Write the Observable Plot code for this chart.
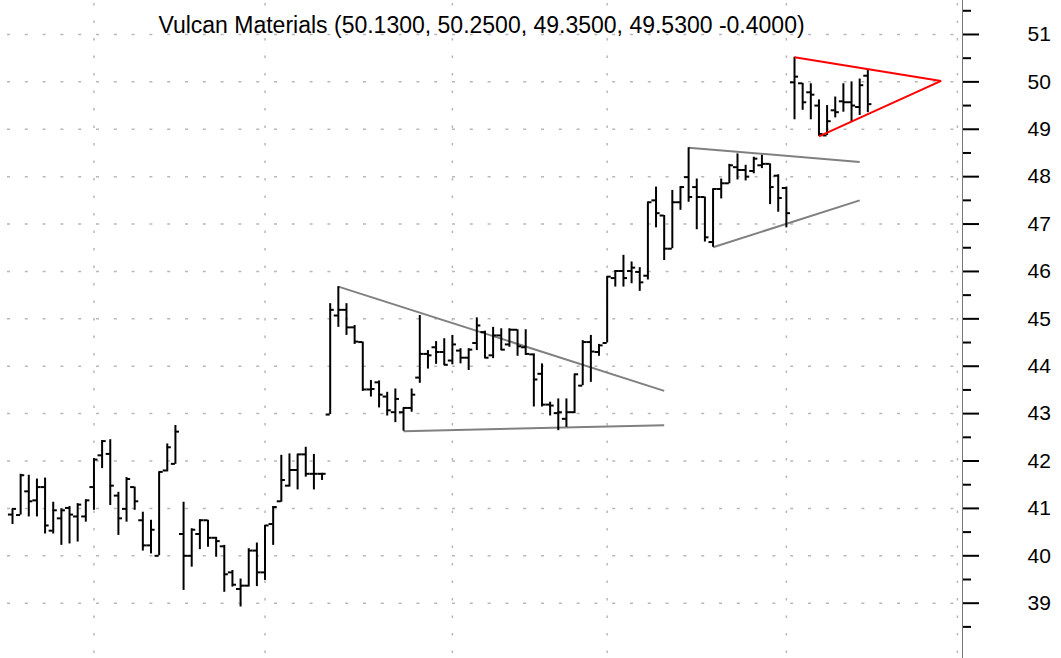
<!DOCTYPE html>
<html>
<head>
<meta charset="utf-8">
<script src="https://cdn.jsdelivr.net/npm/d3@7"></script>
<script src="https://cdn.jsdelivr.net/npm/@observablehq/plot@0.6"></script>
<style>
  html, body { margin: 0; padding: 0; background: #ffffff; }
</style>
</head>
<body>
<div id="chart"></div>
<script>
const title = "Vulcan Materials (50.1300, 50.2500, 49.3500, 49.5300 -0.4000)";

const opens = [40.87,40.86,41.36,41.17,41.45,40.53,40.79,41.01,40.83,40.83,41.45,42.12,42.15,41.27,40.99,41.45,40.75,40.22,40.00,41.80,41.94,40.46,40.00,40.46,40.75,40.38,40.20,39.65,39.30,39.37,40.11,39.65,40.67,41.15,41.48,41.81,42.14,41.73,41.73,42.98,45.07,45.19,44.82,44.51,43.51,43.66,43.36,43.03,43.03,43.12,43.76,44.26,44.40,44.30,44.12,44.33,44.18,44.49,44.72,44.23,44.65,44.46,44.77,44.40,44.25,43.84,43.19,43.01,42.89,43.03,43.59,44.51,44.30,44.49,45.86,46.01,46.01,45.99,45.91,47.50,47.18,46.48,47.46,47.99,47.78,47.57,46.62,47.74,47.86,48.20,48.14,48.12,48.24,48.27,48.02,47.76,49.99,49.97,49.78,49.50,48.87,49.40,49.59,49.57,49.47,50.13];
const highs = [40.99,41.72,41.70,41.62,41.64,41.13,40.99,41.04,41.10,41.18,42.05,42.43,42.45,41.34,41.65,41.45,40.92,40.75,41.77,42.36,42.75,41.13,40.57,40.76,40.75,40.39,40.22,39.69,39.51,40.15,40.27,40.64,41.04,42.12,42.15,42.14,42.29,42.14,41.74,45.32,45.68,45.32,44.86,44.51,43.70,43.69,43.45,43.52,43.12,43.52,45.07,44.33,44.52,44.58,44.65,44.37,44.37,45.02,44.74,44.82,44.79,44.79,44.77,44.77,44.26,44.05,43.24,43.31,43.31,43.83,44.54,44.65,44.46,45.89,46.02,46.34,46.20,46.08,47.46,47.78,47.18,47.71,47.79,48.61,47.95,47.57,47.74,47.95,48.26,48.48,48.24,48.41,48.45,48.27,48.04,47.78,50.52,49.97,49.96,49.62,49.50,49.68,49.96,50.00,50.06,50.25];
const lows = [40.66,40.86,40.82,40.82,40.46,40.46,40.22,40.25,40.29,40.71,40.96,41.84,41.06,40.43,40.71,40.96,40.10,40.04,40.00,41.77,41.93,39.27,39.76,40.13,40.18,39.97,39.23,39.34,38.92,39.34,39.35,39.48,40.22,41.13,41.45,41.39,41.66,41.39,41.59,42.98,44.82,44.65,44.46,43.47,43.35,43.12,42.95,42.81,42.63,43.03,43.64,43.94,44.04,44.02,44.03,44.05,43.91,44.33,44.16,44.16,44.33,44.40,44.21,44.23,43.14,43.14,42.95,42.64,42.71,43.00,43.59,43.66,44.21,44.49,45.67,45.67,45.74,45.58,45.82,46.92,46.23,46.48,47.29,47.46,46.88,46.62,46.51,47.53,47.85,47.93,47.91,48.06,48.17,47.41,47.25,46.92,49.20,49.40,49.20,48.85,48.87,49.24,49.36,49.16,49.29,49.35];
const closes = [40.99,41.70,41.15,41.45,40.64,40.96,40.96,40.87,41.08,41.17,42.03,42.42,41.48,40.79,41.62,41.15,40.22,40.55,41.77,42.29,42.62,40.00,40.55,40.75,40.38,40.31,39.61,39.39,39.37,40.11,39.65,40.64,41.03,41.60,41.81,42.14,41.73,41.73,41.73,45.19,45.19,44.82,44.52,43.51,43.52,43.40,43.07,43.31,43.12,43.40,44.26,44.23,44.30,44.03,44.46,44.18,44.35,44.86,44.18,44.65,44.35,44.77,44.42,44.26,43.72,43.19,43.17,43.03,43.03,43.83,44.51,44.31,44.44,45.89,46.01,45.86,46.08,45.77,47.46,47.23,46.48,47.46,47.78,47.57,47.57,46.72,47.74,47.86,48.24,48.14,48.00,48.38,48.27,47.78,47.55,47.23,50.11,49.57,49.73,48.90,49.17,49.36,49.57,49.50,49.93,49.53];

// trading-day index of each bar
const days = opens.map((_, k) => k + 1);
// first trading day of each month (vertical grid)
const monthStarts = [11, 32, 55, 74, 96, 117];
const majorTicks = [39, 40, 41, 42, 43, 44, 45, 46, 47, 48, 49, 50, 51];
const minorTicks = [38.5, 39.5, 40.5, 41.5, 42.5, 43.5, 44.5, 45.5, 46.5, 47.5, 48.5, 49.5, 50.5, 51.5];

// trend lines (day, price)
const grayLines = [
  {x1: 41, y1: 45.68, x2: 81, y2: 43.48},
  {x1: 49, y1: 42.63, x2: 81, y2: 42.755},
  {x1: 84, y1: 48.61, x2: 105, y2: 48.31},
  {x1: 87, y1: 46.51, x2: 105, y2: 47.50}
];
const redLines = [
  {x1: 97, y1: 50.52, x2: 115, y2: 50.02},
  {x1: 100, y1: 48.85, x2: 115, y2: 50.02}
];

const bars = days.map((d, k) => ({i: d, open: opens[k], high: highs[k], low: lows[k], close: closes[k]}));

const xDomain = [-0.4731, 117.622];
const yDomain = [37.833, 51.717];

const chart = Plot.plot({
  width: 1061,
  height: 658,
  marginLeft: 0,
  marginRight: 99,
  marginTop: 0,
  marginBottom: 0,
  x: {domain: xDomain, axis: null},
  y: {domain: yDomain},
  style: {fontFamily: "Arial, 'Liberation Sans', sans-serif", background: "#ffffff", color: "#000000", overflow: "visible"},
  marks: [
    Plot.ruleY(majorTicks, {stroke: "#b8b8b8", strokeWidth: 1.5, strokeDasharray: "3,14.8", strokeDashoffset: 10.8}),
    Plot.ruleX(monthStarts, {stroke: "#b8b8b8", strokeWidth: 1.5, strokeDasharray: "2.5,15", strokeDashoffset: 14.5}),
    Plot.ruleX([xDomain[1]], {stroke: "#777777", strokeWidth: 1}),
    Plot.axisY(minorTicks, {anchor: "right", tickSize: 8, strokeWidth: 2, stroke: "#000", tickFormat: () => ""}),
    Plot.axisY(majorTicks, {anchor: "right", tickSize: 16, tickPadding: 49, strokeWidth: 2, stroke: "#000", fontSize: 21, fill: "#000", tickFormat: d => String(d)}),
    Plot.text([title], {frameAnchor: "top", lineAnchor: "bottom", dy: 32, fontSize: 23, fill: "#000"}),
    Plot.link(grayLines, {x1: "x1", y1: "y1", x2: "x2", y2: "y2", stroke: "#808080", strokeWidth: 2}),
    Plot.ruleX(bars, {x: "i", y1: "low", y2: "high", stroke: "#000", strokeWidth: 2}),
    Plot.ruleY(bars, {y: "open", x1: d => d.i - 0.5, x2: "i", stroke: "#000", strokeWidth: 2}),
    Plot.ruleY(bars, {y: "close", x1: "i", x2: d => d.i + 0.5, stroke: "#000", strokeWidth: 2}),
    Plot.link(redLines, {x1: "x1", y1: "y1", x2: "x2", y2: "y2", stroke: "#ff0000", strokeWidth: 2})
  ]
});
document.getElementById("chart").appendChild(chart);
</script>
</body>
</html>
